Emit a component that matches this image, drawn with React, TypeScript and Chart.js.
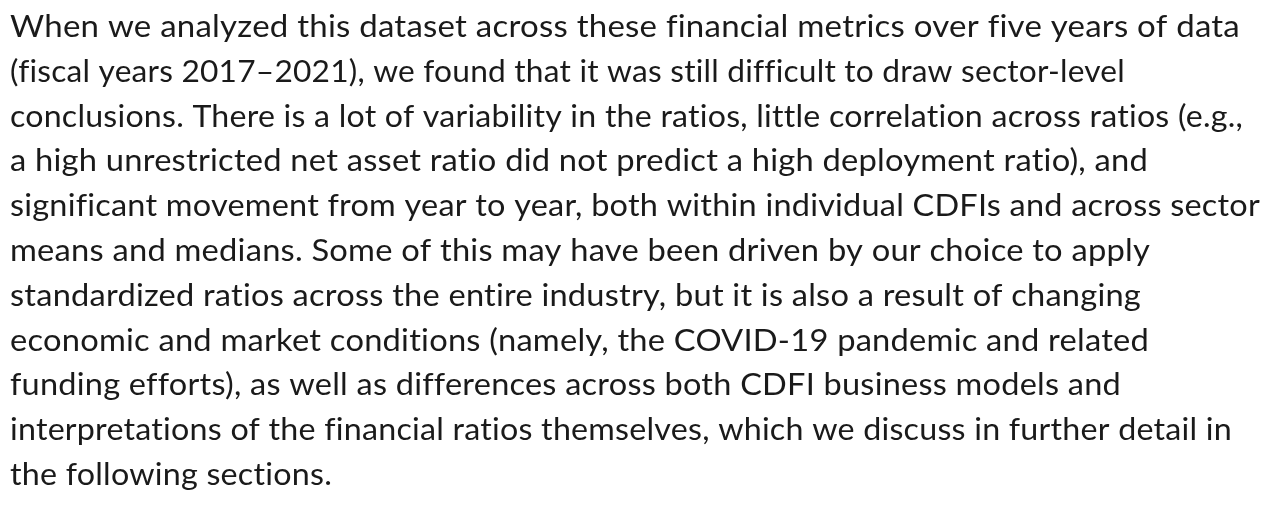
import React, { useEffect, useRef } from "react";
import { Chart, registerables } from "chart.js";

Chart.register(...registerables);

const paragraphLines: string[] = [
  "When we analyzed this dataset across these financial metrics over five years of data",
  "(fiscal years 2017–2021), we found that it was still difficult to draw sector-level",
  "conclusions. There is a lot of variability in the ratios, little correlation across ratios (e.g.,",
  "a high unrestricted net asset ratio did not predict a high deployment ratio), and",
  "significant movement from year to year, both within individual CDFIs and across sector",
  "means and medians. Some of this may have been driven by our choice to apply",
  "standardized ratios across the entire industry, but it is also a result of changing",
  "economic and market conditions (namely, the COVID-19 pandemic and related",
  "funding efforts), as well as differences across both CDFI business models and",
  "interpretations of the financial ratios themselves, which we discuss in further detail in",
  "the following sections.",
];

// right edge (px) of each wrapped line in the reference layout
const lineRightEdges: number[] = [1240, 1125, 1243, 1148, 1260, 1150, 1141, 1149, 1121, 1232, 332];

const categories: string[] = [];
const seriesValues: number[] = [];

const TEXT_LEFT = 10;
const FIRST_BASELINE = 37;
const LINE_STEP = 44.8;

const paragraphPlugin = {
  id: "paragraphText",
  afterDraw(chart: any) {
    const ctx: CanvasRenderingContext2D = chart.ctx;
    ctx.save();
    ctx.font = "normal 30px Lato";
    (ctx as any).letterSpacing = "0.2px";
    ctx.fillStyle = "#1a1a1a";
    ctx.textBaseline = "alphabetic";
    ctx.textAlign = "left";
    paragraphLines.forEach((line, i) => {
      const natural = ctx.measureText(line).width;
      const target = lineRightEdges[i] - TEXT_LEFT;
      const sx = natural > 0 ? target / natural : 1;
      ctx.save();
      ctx.translate(TEXT_LEFT, FIRST_BASELINE + i * LINE_STEP);
      ctx.scale(sx, 1);
      ctx.fillText(line, 0, 0);
      ctx.restore();
    });
    ctx.restore();
  },
};

export default function App() {
  const canvasRef = useRef<HTMLCanvasElement | null>(null);

  useEffect(() => {
    document.body.style.margin = "0";
    document.body.style.background = "#ffffff";
    const canvas = canvasRef.current;
    if (!canvas) return;
    const chart = new Chart(canvas, {
      type: "line",
      data: {
        labels: categories,
        datasets: [{ data: seriesValues, borderWidth: 0, pointRadius: 0 }],
      },
      options: {
        animation: false,
        responsive: false,
        maintainAspectRatio: false,
        layout: { padding: 0 },
        scales: { x: { display: false }, y: { display: false } },
        plugins: {
          legend: { display: false },
          tooltip: { enabled: false },
          title: { display: false },
        },
      },
      plugins: [paragraphPlugin],
    });
    return () => chart.destroy();
  }, []);

  return (
    <div style={{ position: "absolute", left: 0, top: 0, width: 1267, height: 508 }}>
      <canvas ref={canvasRef} width={1267} height={508} />
    </div>
  );
}
